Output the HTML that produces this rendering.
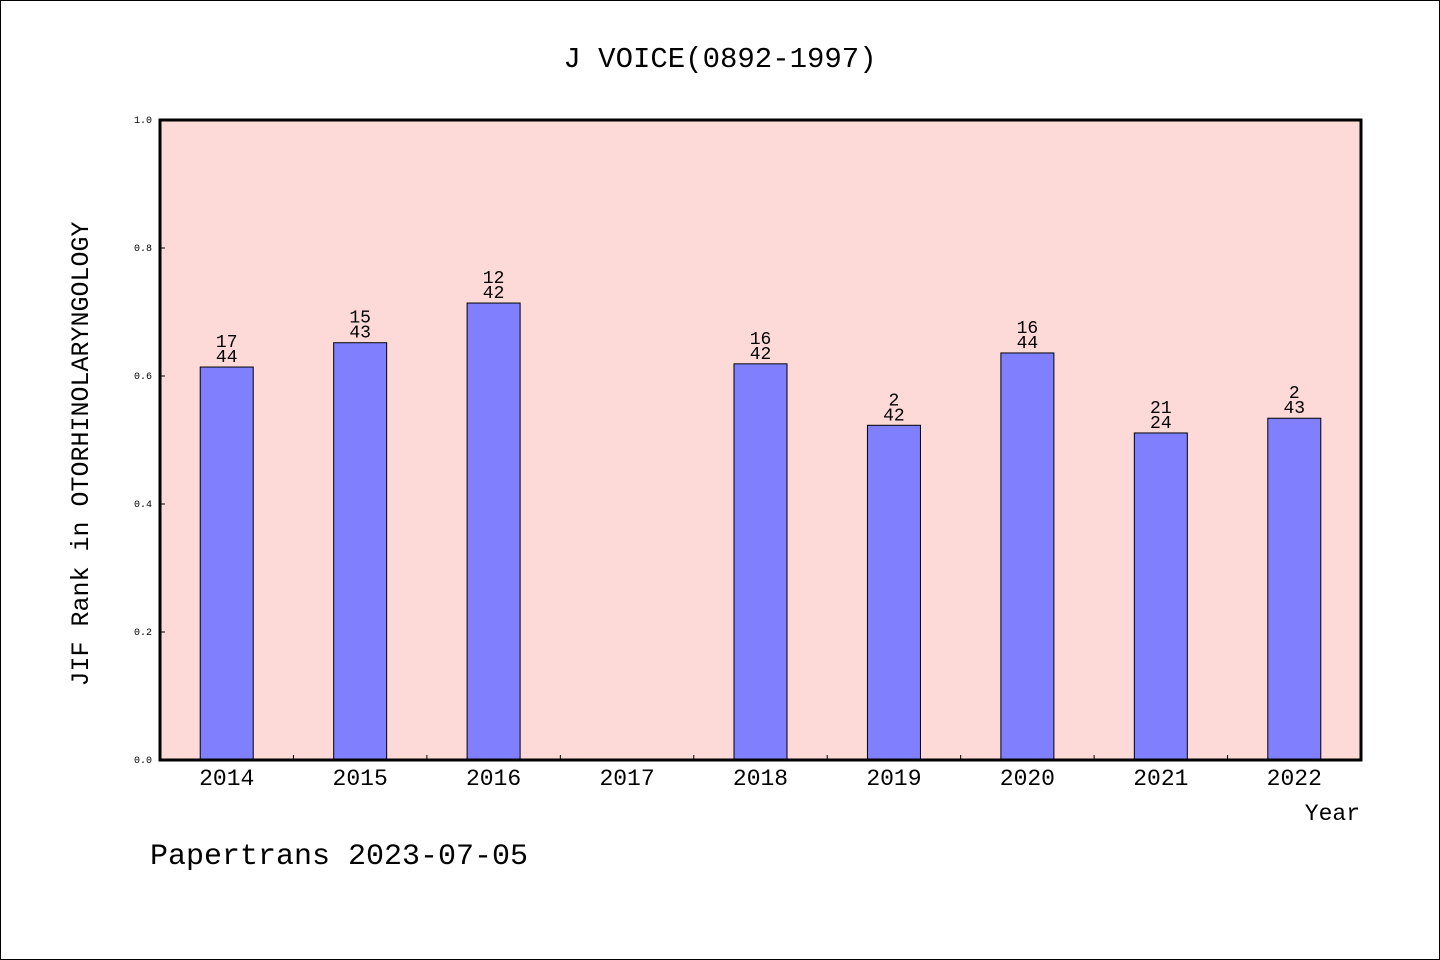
<!DOCTYPE html>
<html><head><meta charset="utf-8"><style>
body{margin:0;background:#fff}
svg{display:block}
text{font-family:"Liberation Mono","WenQuanYi Zen Hei",monospace;fill:#000}
</style></head><body>
<svg id="c" width="1440" height="960">
<rect x="0.5" y="0.5" width="1439" height="959" fill="#fff" stroke="#000"/>
<text x="720" y="67" text-anchor="middle" font-size="29">J VOICE(0892-1997)</text>
<rect x="160" y="120" width="1201" height="640" fill="#fddad7"/>
<g id="bars"></g>
<rect x="160" y="120" width="1201" height="640" fill="none" stroke="#000" stroke-width="3"/>
<text transform="translate(88,454) rotate(-90)" text-anchor="middle" font-size="25">JIF Rank in OTORHINOLARYNGOLOGY</text>
<text x="1360" y="820" text-anchor="end" font-size="23">Year</text>
<text x="150" y="864" font-size="30">Papertrans 2023-07-05</text>
</svg>
<script>
const categories=["2014","2015","2016","2017","2018","2019","2020","2021","2022"];
const values=[0.614,0.652,0.714,0,0.619,0.523,0.636,0.511,0.534];
const ranks=["17","15","12","","16","2","16","21","2"];
const totals=["44","43","42","","42","42","44","24","43"];
const yTicks=[0,0.2,0.4,0.6,0.8,1.0];
const X0=160,X1=1361,Y0=760,Y1=120;
const bw=(X1-X0)/categories.length;
const xs=i=>X0+bw*(i+0.5);
const ys=v=>Y0-(Y0-Y1)*v;
const ns="http://www.w3.org/2000/svg";
const g=document.getElementById('bars');
function mk(t,a){const e=document.createElementNS(ns,t);for(const k in a)e.setAttribute(k,a[k]);return e;}
yTicks.forEach(v=>{
 const l=mk('line',{x1:X0,x2:X0+5,y1:ys(v),y2:ys(v),stroke:'#000'});
 
 
 g.appendChild(l);
 const t=mk('text',{x:X0-8,y:ys(v)+3,'text-anchor':'end','font-size':10,'font-family':'Liberation Sans, sans-serif'});
 t.textContent=v.toFixed(1);
 
 
 g.appendChild(t);
});
categories.forEach((c,i)=>{
 if(i>0){const l=mk('line',{x1:X0+bw*i,x2:X0+bw*i,y1:Y0,y2:Y0-5,stroke:'#000'});
 
 
 g.appendChild(l);}
 const t=mk('text',{x:xs(i),y:785,'text-anchor':'middle','font-size':23});
 t.textContent=c;
 
 
 g.appendChild(t);
 if(values[i]>0){
  const r=mk('rect',{x:xs(i)-26.5,y:ys(values[i]),width:53,height:Y0-ys(values[i]),fill:'#8080ff',stroke:'#000'});
  
  
  g.appendChild(r);
  const a=mk('text',{x:xs(i),y:ys(values[i])-20,'text-anchor':'middle','font-size':18});
  a.textContent=ranks[i];
  
  
  g.appendChild(a);
  const b=mk('text',{x:xs(i),y:ys(values[i])-5,'text-anchor':'middle','font-size':18});
  b.textContent=totals[i];
  
  
  g.appendChild(b);
 }
});
</script>
</body></html>
